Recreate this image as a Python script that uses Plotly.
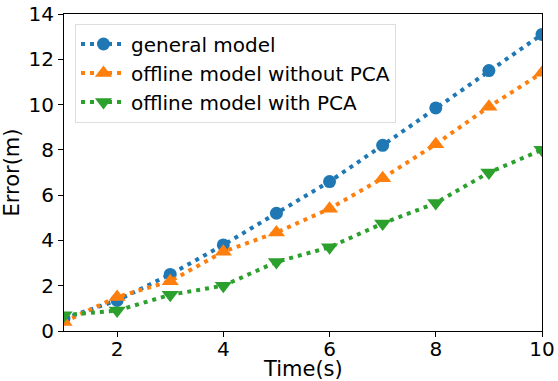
import plotly.graph_objects as go

time_s = [1, 2, 3, 4, 5, 6, 7, 8, 9, 10]
general_model = [0.55, 1.35, 2.5, 3.8, 5.2, 6.6, 8.2, 9.85, 11.5, 13.1]
offline_without_pca = [0.4, 1.5, 2.2, 3.5, 4.35, 5.4, 6.75, 8.25, 9.9, 11.4]
offline_with_pca = [0.7, 0.9, 1.6, 2.0, 3.05, 3.7, 4.75, 5.65, 7.0, 8.0]

names = ["general model", "offline model without PCA", "offline model with PCA"]
colors = ["#1f77b4", "#ff7f0e", "#2ca02c"]
symbols = ["circle", "triangle-up", "triangle-down"]
sizes = [13, 15, 15]
series = [general_model, offline_without_pca, offline_with_pca]

FONT = "DejaVu Sans"
fig = go.Figure()
for name, c, s, sz, ys in zip(names, colors, symbols, sizes, series):
    fig.add_trace(go.Scatter(
        x=time_s, y=ys, name=name, mode="lines+markers",
        line=dict(color=c, width=4, dash="4px,5px"),
        marker=dict(symbol=s, size=sz, color=c),
    ))

fig.update_layout(
    width=558, height=381,
    margin=dict(l=64, r=16, t=14, b=50),
    paper_bgcolor="white", plot_bgcolor="white",
    font=dict(family=FONT, size=20, color="black"),
    legend=dict(x=0.023, y=0.97, xanchor="left", yanchor="top",
                bgcolor="rgba(255,255,255,0.8)", bordercolor="#dddddd", borderwidth=1,
                font=dict(size=20), itemwidth=45),
    annotations=[dict(text="Time(s)", xref="paper", yref="paper", x=0.5, y=-0.121,
                      xanchor="center", yanchor="middle", showarrow=False,
                      height=22, valign="middle", font=dict(size=21))],
)
fig.update_xaxes(range=[1, 10], tickvals=[2, 4, 6, 8, 10], showgrid=False, zeroline=False,
                 showline=True, linecolor="black", linewidth=1, mirror=True,
                 ticks="outside", ticklen=5, tickcolor="black", automargin=False,
                 tickfont=dict(size=20), ticklabelstandoff=-5)
fig.update_yaxes(range=[0, 14], tickvals=[0, 2, 4, 6, 8, 10, 12, 14], showgrid=False, zeroline=False,
                 showline=True, linecolor="black", linewidth=1, mirror=True,
                 ticks="outside", ticklen=5, tickcolor="black", automargin=False,
                 tickfont=dict(size=20),
                 title=dict(text="Error(m)", standoff=6, font=dict(size=21)))
fig.write_html("out.html")
